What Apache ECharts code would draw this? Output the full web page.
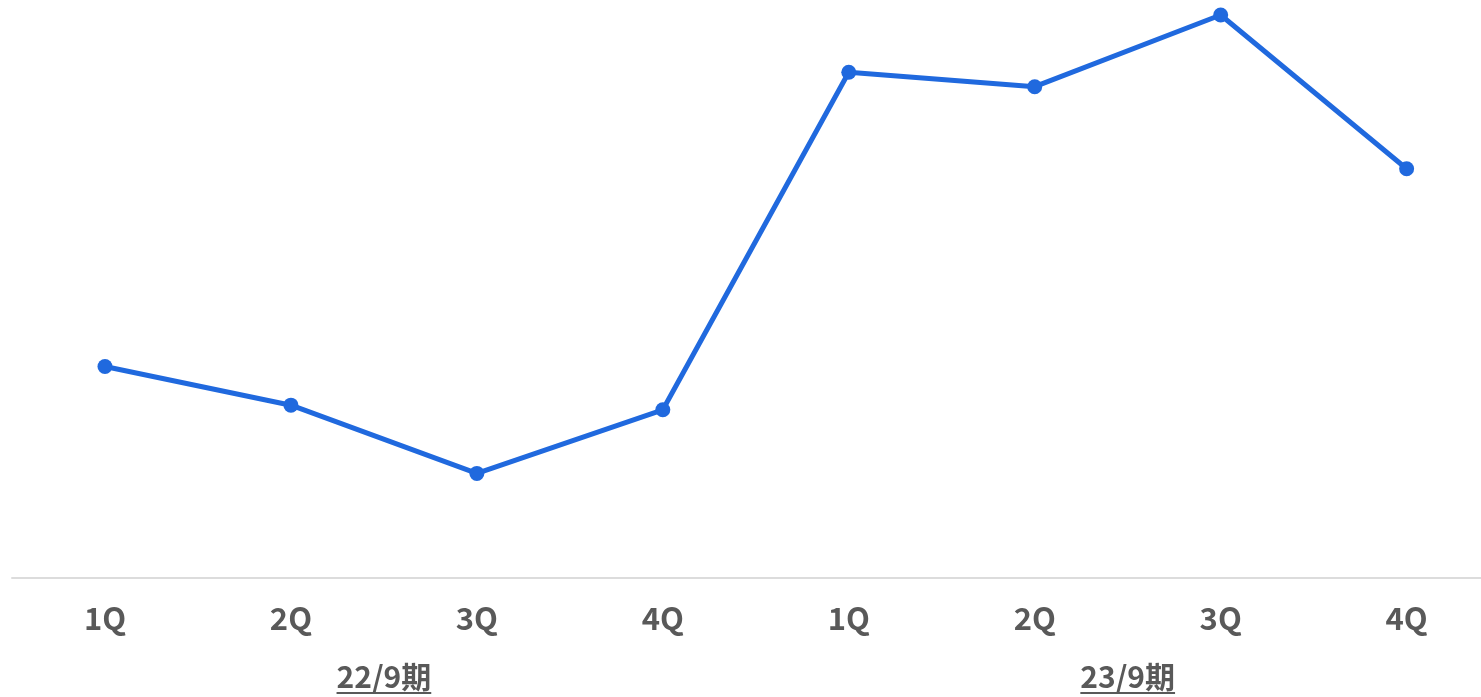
<!DOCTYPE html>
<html>
<head>
<meta charset="utf-8">
<style>
  html, body { margin: 0; padding: 0; background: #ffffff; overflow: hidden; }
  #chart { width: 1481px; height: 697px; }
</style>
<script src="https://cdn.jsdelivr.net/npm/echarts@6/dist/echarts.min.js"></script>
</head>
<body>
<div id="chart"></div>
<script>
// Quarterly series, two fiscal years
const quarters = ['1Q', '2Q', '3Q', '4Q', '1Q', '2Q', '3Q', '4Q'];
const fiscalYears = ['22/9期', '23/9期'];
const values = [36.6, 29.9, 18.1, 29.1, 87.5, 85.0, 97.4, 70.8];

const LINE_BLUE = '#2069de';
const TEXT_GRAY = '#595959';
const FONT = '"Noto Sans CJK JP", "Noto Sans", sans-serif';
const QUARTER_FONT_SIZE = 31;
const YEAR_FONT_SIZE = 30;

// Quarter slots are indexed 0..7; each fiscal year label sits in the middle of its four quarters
const quarterIdx = quarters.map(function (_, i) { return i; });
const yearIdx = fiscalYears.map(function (_, k) { return k * 4 + 1.5; });

// The plot area's slot grid runs slightly past the right edge of the canvas
const X_MIN = -0.5;
const X_MAX = 7.4;

const chart = echarts.init(document.getElementById('chart'), null, { renderer: 'canvas' });

function baseXAxis() {
  return {
    type: 'value',
    min: X_MIN,
    max: X_MAX,
    splitLine: { show: false },
    axisTick: { show: false }
  };
}

chart.setOption({
  animation: false,
  backgroundColor: '#ffffff',
  grid: { left: 12, right: 0, top: 0, bottom: 119, containLabel: false },
  xAxis: [
    Object.assign(baseXAxis(), {
      axisLine: { show: true, onZero: false, lineStyle: { color: '#dcdcdc', width: 2 } },
      axisLabel: {
        customValues: quarterIdx,
        formatter: function (v) { return quarters[Math.round(v)]; },
        margin: 25,
        color: TEXT_GRAY,
        fontFamily: FONT,
        fontWeight: 'bold',
        fontSize: QUARTER_FONT_SIZE
      }
    }),
    Object.assign(baseXAxis(), {
      position: 'bottom',
      axisLine: { show: false },
      axisLabel: {
        customValues: yearIdx,
        formatter: function (v) { return fiscalYears[yearIdx.indexOf(v)]; },
        margin: 84,
        color: TEXT_GRAY,
        fontFamily: FONT,
        fontWeight: 'bold',
        fontSize: YEAR_FONT_SIZE
      }
    })
  ],
  yAxis: {
    type: 'value',
    min: 0,
    max: 100,
    show: false,
    splitLine: { show: false }
  },
  series: [
    {
      type: 'line',
      data: values.map(function (v, i) { return [quarterIdx[i], v]; }),
      xAxisIndex: 0,
      clip: false,
      symbol: 'circle',
      symbolSize: 15,
      lineStyle: { color: LINE_BLUE, width: 5 },
      itemStyle: { color: LINE_BLUE },
      emphasis: { disabled: true }
    }
  ]
});

// Underline the fiscal-year labels, centred under each label
function underlineYears() {
  const ctx = document.createElement('canvas').getContext('2d');
  ctx.font = 'bold ' + YEAR_FONT_SIZE + 'px ' + FONT;
  const elements = fiscalYears.map(function (name, k) {
    const cx = chart.convertToPixel({ xAxisIndex: 1 }, yearIdx[k]);
    const w = ctx.measureText(name).width;
    return {
      type: 'line',
      shape: { x1: cx - w / 2, y1: 693, x2: cx + w / 2, y2: 693 },
      style: { stroke: TEXT_GRAY, lineWidth: 2 },
      silent: true
    };
  });
  chart.setOption({ graphic: elements });
}
underlineYears();
</script>
</body>
</html>
